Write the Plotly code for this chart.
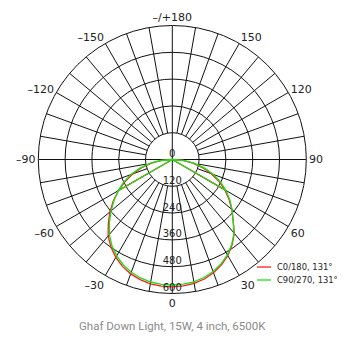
import plotly.graph_objects as go

# ---- data (candela vs. gamma angle) ----
angles = [0, 5, 10, 15, 20, 25, 30, 35, 40, 45, 50, 55, 60, 65, 70, 75, 80, 85, 90]
c0_180_left = [570, 569, 565, 557, 545, 528, 506, 479, 447, 405, 365, 322, 278, 233, 188, 142, 95, 48, 0]
c0_180_right = [570, 568, 563, 554, 540, 521, 497, 467, 432, 385, 348, 310, 272, 230, 186, 140, 94, 47, 0]
c90_270_left = [562, 561, 557, 549, 537, 520, 498, 471, 438, 398, 358, 318, 280, 240, 197, 150, 102, 52, 0]
c90_270_right = [562, 560, 556, 547, 534, 516, 493, 464, 430, 385, 350, 314, 278, 238, 196, 150, 101, 51, 0]
chord_angle = 60

series_names = ["C0/180, 131°", "C90/270, 131°"]
series_colors = ["#ff1a1a", "#18e018"]

radial_ticks = [120, 240, 360, 480, 600]
angle_tickvals = [0, 30, 60, 90, 120, 150, 180, 210, 240, 270, 300, 330]
angle_ticktext = ["0", "30", "60", "90", "120", "150", "–/+180", "–150", "–120", "–90", "–60", "–30"]
title_text = "Ghaf Down Light, 15W, 4 inch, 6500K"

R_MAX = 600
OFF = 8  # page body margin
W, H = 345 - OFF, 338 - OFF
CX, CY, RAD = 172.3, 159.5, 134


def px(x):
    return (x - OFF) / W


def py(y):
    return 1 - (y - OFF) / H


def build_path(left, right):
    i = angles.index(chord_angle)
    th = [-chord_angle]
    r = [left[i]]
    for a, v in zip(reversed(angles), reversed(left)):
        th.append(-a)
        r.append(v)
    for a, v in zip(angles[1:], right[1:]):
        th.append(a)
        r.append(v)
    th.append(chord_angle)
    r.append(right[i])
    return th, r


fig = go.Figure()

# spokes every 10 degrees (from innermost ring outward)
sp_r, sp_t = [], []
for a in range(0, 360, 10):
    if a % 90 == 0:
        continue
    sp_r += [radial_ticks[0], R_MAX, None]
    sp_t += [a, a, None]
sp_r += [R_MAX, 0, R_MAX, None, R_MAX, 0, R_MAX]
sp_t += [0, 0, 180, None, 90, 90, 270]
fig.add_trace(go.Scatterpolar(r=sp_r, theta=sp_t, mode="lines",
                              line=dict(color="#111", width=1),
                              hoverinfo="skip", showlegend=False))

for (lft, rgt), name, col in zip([(c0_180_left, c0_180_right), (c90_270_left, c90_270_right)],
                                 series_names, series_colors):
    th, r = build_path(lft, rgt)
    fig.add_trace(go.Scatterpolar(r=r, theta=th, mode="lines", name=name,
                                  line=dict(color=col, width=1.3), showlegend=False))

fig.add_trace(go.Scatterpolar(r=[0] + radial_ticks, theta=[0] * (len(radial_ticks) + 1),
                              mode="text", text=["0"] + [str(v) for v in radial_ticks],
                              textposition="top center",
                              textfont=dict(family="DejaVu Sans", size=10, color="#222"),
                              hoverinfo="skip", showlegend=False))

fig.update_layout(
    width=W, height=H,
    margin=dict(l=0, r=0, t=0, b=0),
    paper_bgcolor="white",
    polar=dict(
        domain=dict(x=[px(CX - RAD), px(CX + RAD)],
                    y=[py(CY + RAD), py(CY - RAD)]),
        bgcolor="white",
        angularaxis=dict(rotation=-90, direction="counterclockwise",
                         tickmode="array", tickvals=angle_tickvals, ticktext=angle_ticktext,
                         showgrid=False, ticks="", showline=True,
                         linecolor="#111", linewidth=1,
                         tickfont=dict(family="DejaVu Sans", size=11, color="#222")),
        radialaxis=dict(range=[0, R_MAX], tickvals=radial_ticks, showticklabels=False,
                        ticks="", showline=False, showgrid=True,
                        gridcolor="#111", gridwidth=1),
    ),
    showlegend=False,
)

leg_y = [267, 280]
for y, name, col in zip(leg_y, series_names, series_colors):
    fig.add_shape(type="line", xref="paper", yref="paper",
                  x0=px(257), x1=px(271), y0=py(y), y1=py(y),
                  line=dict(color=col, width=1.3))
    fig.add_annotation(x=px(275), y=py(y), xref="paper", yref="paper",
                       text=name, showarrow=False, xanchor="left", yanchor="middle",
                       font=dict(family="DejaVu Sans", size=8.4, color="#222"))

fig.add_annotation(x=px(172), y=py(326), xref="paper", yref="paper",
                   text=title_text, showarrow=False, xanchor="center", yanchor="middle",
                   font=dict(family="Roboto, Liberation Sans, sans-serif", size=11.5, color="#8a8a8a"))

fig.write_html("out.html")
